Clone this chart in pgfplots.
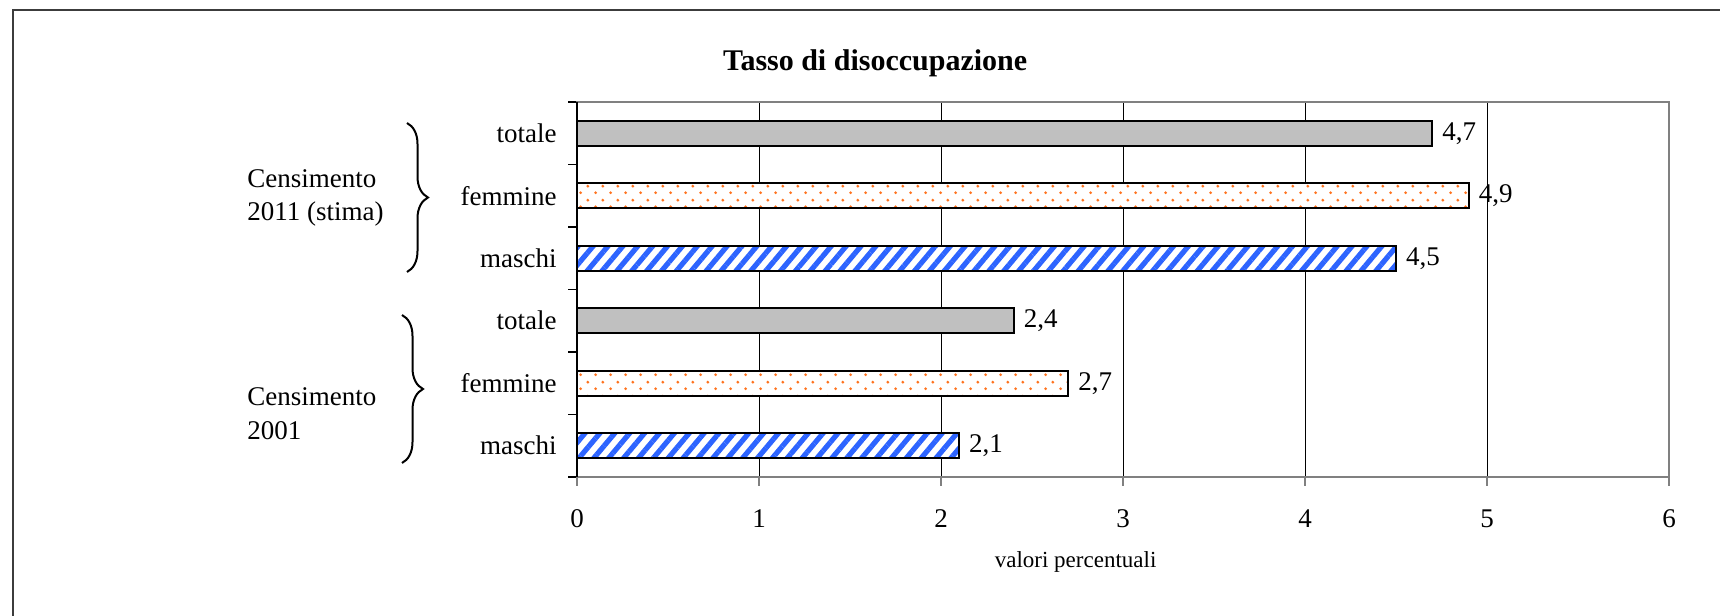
\documentclass[border=0pt]{standalone}
\usepackage{fontspec}
\setmainfont{Liberation Serif}
\usepackage{pgfplots}
\pgfplotsset{compat=1.18}
\usetikzlibrary{patterns.meta,decorations.pathreplacing}
\definecolor{barGray}{RGB}{192,192,192}
\definecolor{dotOrange}{RGB}{255,115,30}
\definecolor{stripeBlue}{RGB}{45,100,255}
\definecolor{axisGray}{RGB}{128,128,128}
\definecolor{frameGray}{RGB}{60,60,60}
\pgfdeclarepattern{
  name=sparsedots,
  type=uncolored,
  bottom left={\pgfpoint{0pt}{0pt}},
  top right={\pgfpoint{7.6pt}{7pt}},
  tile size={\pgfpoint{7.6pt}{7pt}},
  code={
    \pgfpathcircle{\pgfpoint{1.9pt}{1.75pt}}{0.8pt}
    \pgfpathcircle{\pgfpoint{5.7pt}{5.25pt}}{0.8pt}
    \pgfusepath{fill}
  }
}
\begin{document}
\begin{tikzpicture}
\useasboundingbox (0,0) rectangle (860pt,308pt);
\draw[frameGray, line width=1.2pt] (6.5pt,-2pt) -- (6.5pt,303pt) -- (862pt,303pt);
\begin{axis}[
  at={(288.5pt,69.5pt)}, anchor=south west,
  scale only axis, width=546pt, height=187.5pt,
  xmin=0, xmax=6, ymin=0, ymax=6,
  clip=false,
  axis line style={axisGray, line width=0.9pt},
  xtick={0,1,2,3,4,5,6},
  ytick={0,1,2,3,4,5,6}, yticklabels={},
  extra y ticks={0.5,1.5,2.5,3.5,4.5,5.5},
  extra y tick labels={maschi,femmine,totale,maschi,femmine,totale},
  extra y tick style={major tick length=0pt, yticklabel style={anchor=east, inner sep=0pt, xshift=-10pt}},
  tick align=outside, tick pos=left,
  major tick length=4.5pt,
  x tick style={axisGray, line width=0.8pt},
  y tick style={black, line width=0.6pt},
  xticklabel style={anchor=center, yshift=-16.5pt},
  xmajorgrids, major grid style={black, line width=0.5pt},
  tick label style={font=\fontsize{13.5}{16}\selectfont},
  /pgf/number format/assume math mode=true,
  xbar, bar width=12.5pt,
  nodes near coords,
  nodes near coords style={font=\fontsize{13.5}{16}\selectfont, black, anchor=west, inner sep=4.5pt,
    /pgf/number format/.cd, fixed, fixed zerofill, precision=1, use comma, assume math mode=true},
]
\addplot[bar shift=0pt, draw=black, line width=1pt, fill=barGray]
  coordinates {(4.7,5.5) (2.4,2.5)};
\addplot[bar shift=0pt, draw=black, line width=1pt, fill=white,
  postaction={pattern=sparsedots, pattern color=dotOrange}]
  coordinates {(4.9,4.5) (2.7,1.5)};
\addplot[bar shift=0pt, draw=black, line width=1pt, fill=white,
  postaction={pattern={Lines[angle=50, distance=5.7pt, line width=2.6pt]}, pattern color=stripeBlue}]
  coordinates {(4.5,3.5) (2.1,0.5)};
\draw[black, line width=0.6pt] (axis cs:0,0) -- (axis cs:0,6);
\end{axis}
\node[font=\fontsize{15}{18}\selectfont\bfseries] at (437.6pt,276.5pt) {Tasso di disoccupazione};
\node[font=\fontsize{11.5}{13}\selectfont] at (537.8pt,27pt) {valori percentuali};
\node[font=\fontsize{13.5}{16}\selectfont, anchor=west, inner sep=0pt] at (123.5pt,218.5pt) {Censimento};
\node[font=\fontsize{13.5}{16}\selectfont, anchor=west, inner sep=0pt] at (123.5pt,201pt) {2011 (stima)};
\node[font=\fontsize{13.5}{16}\selectfont, anchor=west, inner sep=0pt] at (123.5pt,109.5pt) {Censimento};
\node[font=\fontsize{13.5}{16}\selectfont, anchor=west, inner sep=0pt] at (123.5pt,92.5pt) {2001};
\draw[black, line width=1pt, decorate, decoration={brace, amplitude=10.5pt}] (203.5pt,246.5pt) -- (203.5pt,172pt);
\draw[black, line width=1pt, decorate, decoration={brace, amplitude=10.5pt}] (201pt,150.5pt) -- (201pt,76.5pt);
\end{tikzpicture}
\end{document}
